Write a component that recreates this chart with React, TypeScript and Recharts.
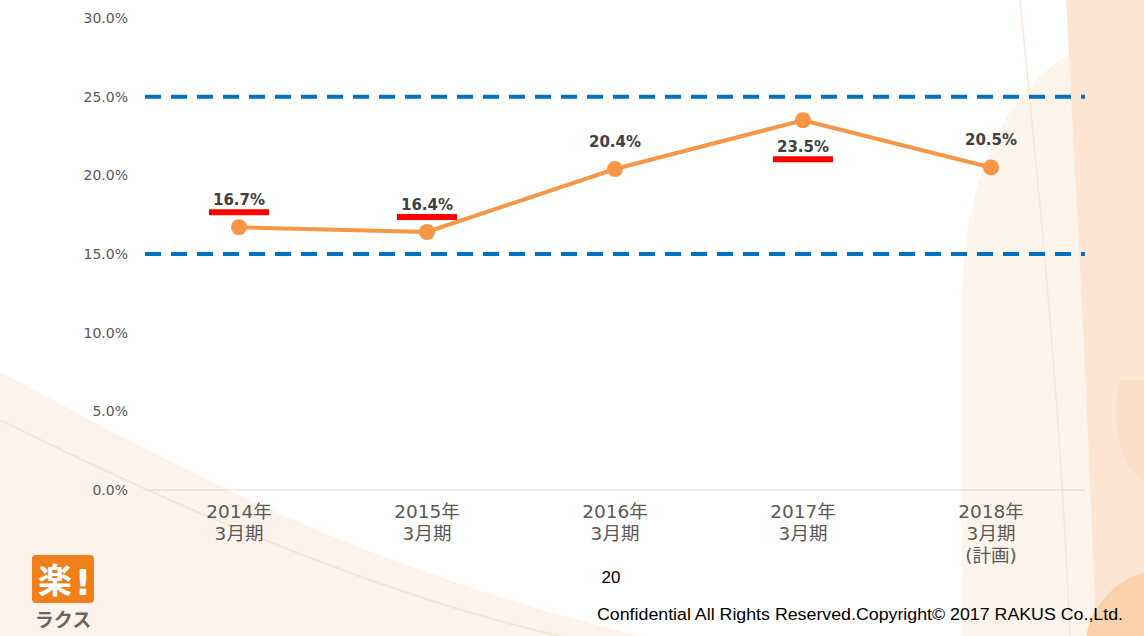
import React from 'react';
import { LineChart, Line, XAxis, YAxis, ReferenceLine, LabelList } from 'recharts';

const categories = ['2014年\n3月期', '2015年\n3月期', '2016年\n3月期', '2017年\n3月期', '2018年\n3月期\n(計画)'];
const ratioValues = [16.7, 16.4, 20.4, 23.5, 20.5];
const underlined = [true, true, false, true, false];
const labelBelow = [false, false, false, true, false];
const yTicks = [0, 5, 10, 15, 20, 25, 30];
const bandLines = [25, 15];

const data = categories.map((name, i) => ({
  name,
  ratio: ratioValues[i],
  underline: underlined[i],
  below: labelBelow[i],
}));

const FONT = '"DejaVu Sans", "Noto Sans CJK JP", sans-serif';

interface TickProps {
  x: number;
  y: number;
  payload: { value: string };
}

const CategoryTick = ({ x, y, payload }: TickProps) => {
  const lines = String(payload.value).split('\n');
  return (
    <text x={x} y={y} textAnchor="middle" fill="#595959" fontSize={18.5} fontFamily={FONT}>
      {lines.map((line, i) => (
        <tspan key={i} x={x} dy={i === 0 ? 20 : 22}>
          {line}
        </tspan>
      ))}
    </text>
  );
};

const ValueLabel = (props: any) => {
  const { x, y, value, index } = props;
  const row = data[index];
  const cy = row.below ? y + 27 : y - 27;
  return (
    <g>
      <text
        x={x}
        y={cy + 5}
        textAnchor="middle"
        fill="#404040"
        fontSize={15}
        fontWeight="bold"
        fontFamily={FONT}
      >
        {`${value.toFixed(1)}%`}
      </text>
      {row.underline && <rect x={x - 30} y={cy + 9} width={60} height={6} fill="#FF0000" />}
    </g>
  );
};

const Background = () => (
  <svg width={1144} height={636} style={{ position: 'absolute', left: 0, top: 0 }}>
    <path d="M0 372 C 150 450, 330 560, 640 636 L 0 636 Z" fill="#FDF3EA" />
    <path d="M0 420 C 200 520, 400 600, 560 636" fill="none" stroke="#F8E4D2" strokeWidth={2} />
    <path d="M962 636 L 962 300 C 965 120, 1050 35, 1144 35 L 1144 636 Z" fill="#FDF4EC" />
    <path d="M1066 0 L 1144 0 L 1144 636 L 1096 636 C 1088 400, 1074 150, 1066 0 Z" fill="#FCE6D3" />
    <path d="M1020 0 C 1040 200, 1060 400, 1070 636" fill="none" stroke="#F7E6D8" strokeWidth={1.5} />
    <circle cx={1165} cy={650} r={80} fill="#F9D2AC" />
    <path d="M1120 380 C 1110 420, 1120 470, 1144 480 L 1144 380 Z" fill="#FADFC6" />
    <rect x={32} y={555} width={62} height={48} rx={4} fill="#EE7F1B" />
    <text x={55} y={593} textAnchor="middle" fill="#FFFFFF" fontSize={34} fontWeight="bold" fontFamily={FONT}>
      楽
    </text>
    <text x={83} y={595} textAnchor="middle" fill="#FFFFFF" fontSize={36} fontWeight="bold" fontFamily={FONT}>
      !
    </text>
    <text x={63} y={627} textAnchor="middle" fill="#666666" fontSize={19} fontWeight="bold" fontFamily={FONT}>
      ラクス
    </text>
    <text x={611} y={583} textAnchor="middle" fill="#000000" fontSize={17} fontFamily='"Liberation Sans", Arial, sans-serif'>
      20
    </text>
    <text
      x={597}
      y={620}
      fill="#000000"
      fontSize={16}
      fontFamily='"Liberation Sans", Arial, sans-serif'
      textLength={526}
      lengthAdjust="spacingAndGlyphs"
    >
      Confidential All Rights Reserved.Copyright© 2017 RAKUS Co.,Ltd.
    </text>
  </svg>
);

export default function App() {
  return (
    <div style={{ position: 'fixed', left: 0, top: 0, width: 1144, height: 636, background: '#FFFFFF', overflow: 'hidden' }}>
      <Background />
      <div style={{ position: 'absolute', left: 0, top: 0 }}>
        <LineChart width={1144} height={636} data={data} margin={{ top: 18, right: 59, bottom: 56, left: 0 }}>
          <XAxis
            dataKey="name"
            axisLine={{ stroke: '#D9D9D9', strokeWidth: 1 }}
            tickLine={false}
            tick={CategoryTick as any}
            height={90}
            interval={0}
            padding={{ left: 94, right: 94 }}
          />
          <YAxis
            width={145}
            domain={[0, 30]}
            ticks={yTicks}
            axisLine={false}
            tickLine={false}
            tickMargin={11}
            tick={{ fill: '#595959', fontSize: 14, fontFamily: FONT }}
            tickFormatter={(v: number) => `${v.toFixed(1)}%`}
          />
          {bandLines.map((v) => (
            <ReferenceLine key={v} y={v} stroke="#0070C0" strokeWidth={4} strokeDasharray="16 10" />
          ))}
          <Line
            type="linear"
            dataKey="ratio"
            stroke="#F79646"
            strokeWidth={4}
            dot={{ r: 8, fill: '#F79646', stroke: '#F79646', strokeWidth: 0 }}
            activeDot={false}
            isAnimationActive={false}
          >
            <LabelList dataKey="ratio" content={ValueLabel} />
          </Line>
        </LineChart>
      </div>
    </div>
  );
}
